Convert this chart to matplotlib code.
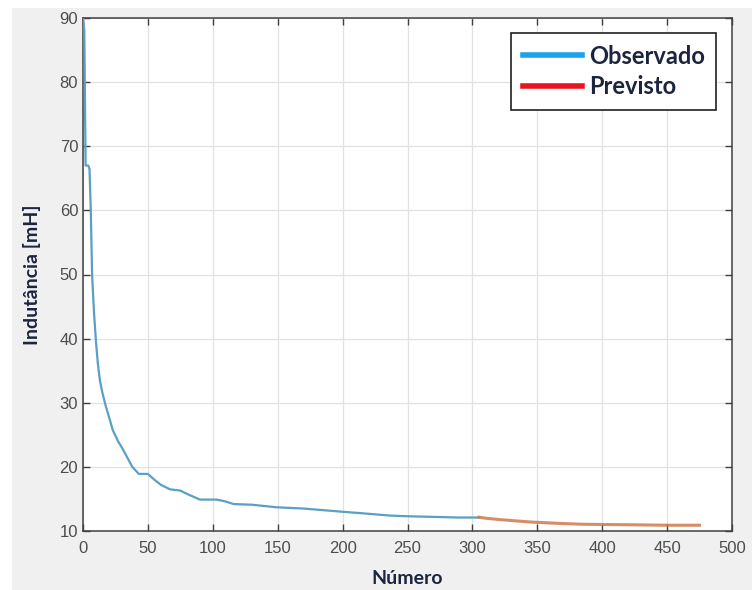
import matplotlib
matplotlib.use('Agg')
import matplotlib.pyplot as plt
from matplotlib.lines import Line2D
from matplotlib.patches import Rectangle

# dados
obs_x = [0, 1, 2, 4, 5, 6, 7, 8.5, 10, 11.5, 13, 15, 17.5, 20, 23, 27, 30, 34,
         38, 43, 50, 55, 60, 67, 75, 80, 90, 103, 110, 116, 130, 149, 170, 200,
         213, 237, 250, 270, 290, 305]
obs_y = [90, 88, 67, 67, 66.5, 60, 50, 44, 39.5, 36, 33.5, 31.5, 29.5, 27.8,
         25.7, 24, 23, 21.5, 20, 18.9, 18.9, 18, 17.2, 16.5, 16.3, 15.8, 14.9,
         14.9, 14.6, 14.2, 14.1, 13.7, 13.5, 13.0, 12.8, 12.4, 12.3, 12.2,
         12.1, 12.1]

prev_x = [305, 310, 320, 332, 345, 365, 385, 408, 430, 450, 475]
prev_y = [12.15, 12.0, 11.8, 11.6, 11.4, 11.2, 11.05, 11.0, 10.95, 10.9, 10.9]

x_ticks = [0, 50, 100, 150, 200, 250, 300, 350, 400, 450, 500]
y_ticks = [10, 20, 30, 40, 50, 60, 70, 80, 90]

fig = plt.figure(figsize=(7.52, 5.9), dpi=100)
fig.patch.set_facecolor('white')
fig.add_artist(Rectangle((12 / 752, 0), 1, 1 - 8 / 590, transform=fig.transFigure,
                         facecolor='#f0f0f0', edgecolor='none', zorder=-10))

ax = fig.add_axes([83 / 752, 1 - 531 / 590, (732 - 83) / 752, (531 - 18) / 590])
ax.set_facecolor('white')

ax.plot(obs_x, obs_y, color='#5a9fc4', lw=1.6, zorder=3)
ax.plot(prev_x, prev_y, color='#d0784a', lw=2.2, alpha=0.85, zorder=3)

ax.set_xlim(0, 500)
ax.set_ylim(10, 90)
ax.set_xticks(x_ticks)
ax.set_yticks(y_ticks)
ax.grid(True, color='#e2e2e2', lw=0.9)
ax.set_axisbelow(True)
ax.tick_params(direction='in', top=True, right=True, length=5, width=1,
               color='#404040', labelcolor='#4d4d4d', labelsize=12)
ax.tick_params(axis='x', pad=7)
for lab in ax.get_xticklabels() + ax.get_yticklabels():
    lab.set_family('Liberation Sans')
for s in ax.spines.values():
    s.set_color('#404040')
    s.set_linewidth(1.1)

lbl_font = dict(family='Lato', weight='bold', size=14, color='#1c2540')
ax.set_xlabel('Número', labelpad=10, **lbl_font)
ax.set_ylabel('Indutância [mH]', labelpad=13, **lbl_font)

handles = [Line2D([], [], color='#1aa3e8', lw=4),
           Line2D([], [], color='#e8141e', lw=4)]
leg = ax.legend(handles, ['Observado', 'Previsto'], loc='upper right',
                bbox_to_anchor=(0.976, 0.971), borderaxespad=0,
                fancybox=False, framealpha=1, edgecolor='#202020',
                prop=dict(family='Lato', weight='bold', size=17),
                handlelength=2.5, handletextpad=0.3, labelspacing=0.3,
                borderpad=0.5)
leg.get_frame().set_linewidth(1.2)
for t in leg.get_texts():
    t.set_color('#1c2540')

fig.savefig('out.png', dpi=100, facecolor=fig.get_facecolor())
